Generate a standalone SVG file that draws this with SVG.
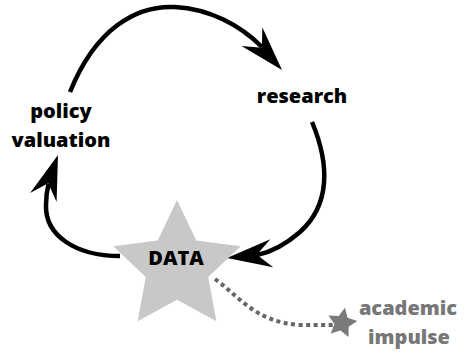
<svg xmlns="http://www.w3.org/2000/svg" xmlns:xlink="http://www.w3.org/1999/xlink" width="467" height="355" viewBox="0 0 467 355">
  <style>
    .label { font-family: "Open Sans", "Liberation Sans", sans-serif; font-weight: 800; font-size: 20px; text-anchor: middle; fill: #000; }
    .grey { fill: #777; }
    .flow { fill: none; stroke: #000; stroke-width: 4.5; stroke-linecap: butt; }
    .dots { fill: none; stroke: #666; stroke-width: 4; stroke-dasharray: 4 3.5; }
  </style>
  <defs>
    <!-- barbed arrowhead, tip at origin pointing along +x -->
    <path id="head" d="M0,0 L-45,-14 L-30,0 L-45,14 Z" fill="#000"/>
    <!-- five-pointed star, outer radius 1, inner radius 0.49 -->
    <polygon id="star" points="0,-1 0.288,-0.396 0.951,-0.309 0.466,0.151 0.588,0.809 0,0.49 -0.588,0.809 -0.466,0.151 -0.951,-0.309 -0.288,-0.396"/>
  </defs>

  <g id="connectors">
    <!-- policy valuation -> research -->
    <path class="flow" d="M70,92 C95,30 135,5 175,7 C210,9 240,25 262,47"/>
    <use xlink:href="#head" transform="translate(282,70) rotate(48)"/>
    <!-- research -> DATA -->
    <path class="flow" d="M312,122 C330,165 330,205 300,232 C285,245 272,252 257,255"/>
    <use xlink:href="#head" transform="translate(227,258) rotate(174)"/>
    <!-- DATA -> policy valuation -->
    <path class="flow" d="M120,256 C75,256 45,235 46,205 C46,197 47,190 48.5,184"/>
    <use xlink:href="#head" transform="translate(58,155) rotate(-71)"/>
    <!-- academic impulse -> DATA -->
    <path class="dots" d="M215,279 C240,297 255,322 300,325 L336,325"/>
  </g>

  <g id="data">
    <use xlink:href="#star" fill="#c8c8c8" transform="translate(177,267) scale(67)"/>
    <text class="label" x="176" y="265">DATA</text>
  </g>

  <g id="research">
    <text class="label" x="302" y="103">research</text>
  </g>

  <g id="policy-valuation">
    <text class="label" x="61" y="118">policy</text>
    <text class="label" x="61" y="147">valuation</text>
  </g>

  <g id="academic-impulse">
    <use xlink:href="#star" fill="#7a7a7a" transform="translate(342,323) rotate(11) scale(15.5)"/>
    <text class="label grey" x="408" y="315">academic</text>
    <text class="label grey" x="409" y="344">impulse</text>
  </g>
</svg>
